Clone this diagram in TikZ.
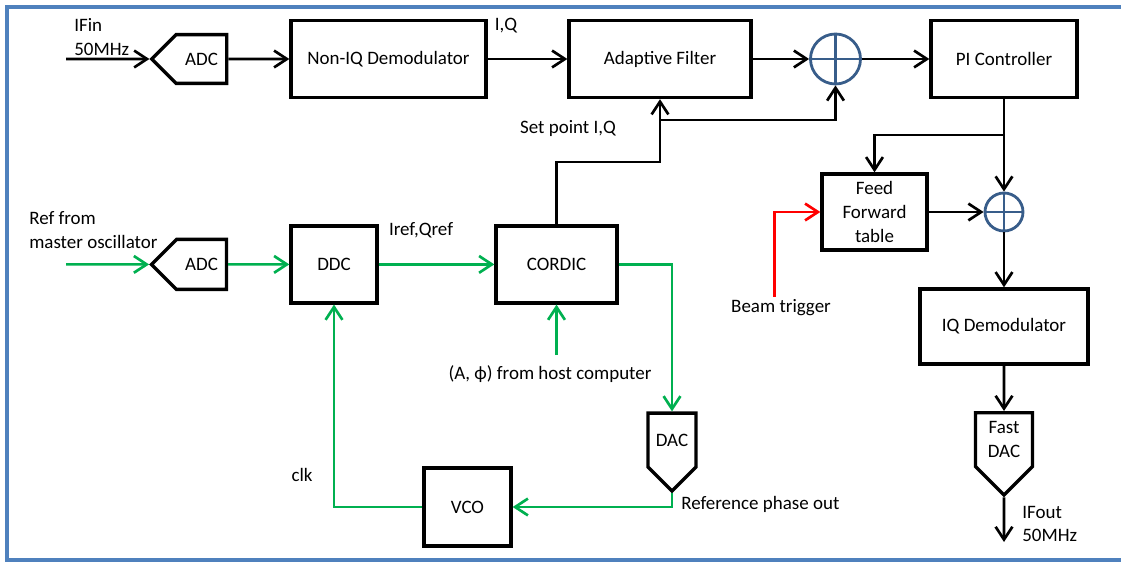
\documentclass[tikz,border=0pt]{standalone}
\usepackage{fontspec}
\setmainfont{Carlito}
\usetikzlibrary{arrows.meta,shapes.symbols}
\definecolor{frameblue}{RGB}{79,129,189}
\definecolor{sumblue}{RGB}{56,93,138}
\definecolor{refgreen}{RGB}{0,176,80}

\begin{document}
\begin{tikzpicture}[
  font=\fontsize{13.5}{17}\selectfont,
  box/.style={rectangle, draw, line width=2.4pt, minimum height=1.925cm},
  conv/.style={signal, draw, line width=2.4pt, signal pointer angle=90, inner sep=0pt},
  sum/.style={circle, draw=sumblue, line width=2pt, inner sep=0pt},
  arrow/.style={-{Straight Barb[length=3.2mm,width=4.2mm]}, line width=1.9pt},
  garrow/.style={arrow, refgreen},
  rarrow/.style={arrow, red},
  lbl/.style={inner sep=0pt, align=left}
]
\useasboundingbox (0,0) rectangle (28.025,14.05);
\draw[frameblue, line width=2.5pt] (30,13.875) -- (0.175,13.875) -- (0.175,0.05) -- (30,0.05);

% upper chain
\node[conv, signal to=west, minimum width=1.875cm, minimum height=1.22cm] (adcA) at (5.0375,12.575) {ADC};
\node[box, minimum width=4.875cm] (demod) at (9.7125,12.575) {Non-IQ Demodulator};
\node[box, minimum width=4.55cm] (filter) at (16.5,12.575) {Adaptive Filter};
\node[sum, minimum size=1.25cm] (sumA) at (20.8875,12.575) {};
\node[box, minimum width=3.65cm] (pi) at (25.1,12.575) {PI Controller};

% reference chain
\node[conv, signal to=west, minimum width=1.875cm, minimum height=1.25cm] (adcB) at (5.0375,7.44) {ADC};
\node[box, minimum width=2.15cm] (ddc) at (8.35,7.44) {DDC};
\node[box, minimum width=3.025cm] (cordic) at (13.9125,7.44) {CORDIC};
\node[conv, signal to=south, minimum width=1.2cm, minimum height=1.75cm] (dac) at (16.8,3.05) {DAC};
\node[box, minimum width=2.175cm, minimum height=1.95cm] (vco) at (11.6875,1.375) {VCO};

% output side
\node[box, minimum width=2.625cm, minimum height=1.9cm, align=center] (ff) at (21.8625,8.75) {Feed\\Forward\\table};
\node[sum, minimum size=0.95cm] (sumB) at (25.1,8.75) {};
\node[box, minimum width=4.2cm, minimum height=1.875cm] (iq) at (25.1,5.8875) {IQ Demodulator};
\node[conv, signal to=south, minimum width=1.425cm, minimum height=1.75cm, align=center] (fdac) at (25.1,3.06) {Fast\\DAC};

\foreach \s in {sumA,sumB}
  \draw[sumblue, line width=2pt] (\s.north) -- (\s.south) (\s.west) -- (\s.east);

\coordinate (ifin) at (1.65,12.575);
\coordinate (refin) at (1.65,7.44);
\coordinate (setpt) at (16.5,10);
\coordinate (branch) at (16.5,11.05);
\coordinate (split) at (25.1,10.675);
\coordinate (beam) at (19.3675,6.625);
\coordinate (host) at (13.9125,5.175);
\coordinate (ifout) at (25.1,0.5);

\draw[arrow] (ifin) -- (adcA);
\draw[arrow] (adcA) -- (demod);
\draw[arrow] (demod) -- (filter);
\draw[arrow] (filter) -- (sumA);
\draw[arrow] (sumA) -- (pi);
\draw[arrow] (cordic) |- (setpt) -- (filter);
\draw[arrow] (branch) -| (sumA);
\draw[arrow] (pi) -- (split) -| (ff);
\draw[arrow] (split) -- (sumB);
\draw[arrow] (ff) -- (sumB);
\draw[arrow] (sumB) -- (iq);
\draw[arrow] (iq) -- (fdac);
\draw[arrow] (fdac) -- (ifout);
\draw[rarrow] (beam) |- (ff);

\draw[garrow] (refin) -- (adcB);
\draw[garrow] (adcB) -- (ddc);
\draw[garrow] (ddc) -- (cordic);
\draw[garrow] (cordic) -| (dac);
\draw[garrow] (dac) |- (vco);
\draw[garrow] (vco) -| (ddc);
\draw[garrow] (host) -- (cordic);

% labels
\node[lbl, anchor=south west] (ifinlbl) at (1.85,12.65) {IFin\\50MHz};
\node[lbl] (iqlbl) at (12.65,13.4) {I,Q};
\node[lbl] (setlbl) at (14.2,10.825) {Set point I,Q};
\node[lbl] (beamlbl) at (19.525,6.35) {Beam trigger};
\node[lbl, anchor=west] (outlbl) at (25.55,0.95) {IFout\\50MHz};
\node[lbl, anchor=west] (reflbl) at (0.725,8.29) {Ref from\\master oscillator};
\node[lbl] (iqreflbl) at (10.525,8.3) {Iref,Qref};
\node[lbl] (hostlbl) at (13.75,4.7) {(A, ϕ) from host computer};
\node[lbl, anchor=west] (phaselbl) at (17.025,1.45) {Reference phase out};
\node[lbl] (clklbl) at (7.55,2.175) {clk};
\end{tikzpicture}
\end{document}
